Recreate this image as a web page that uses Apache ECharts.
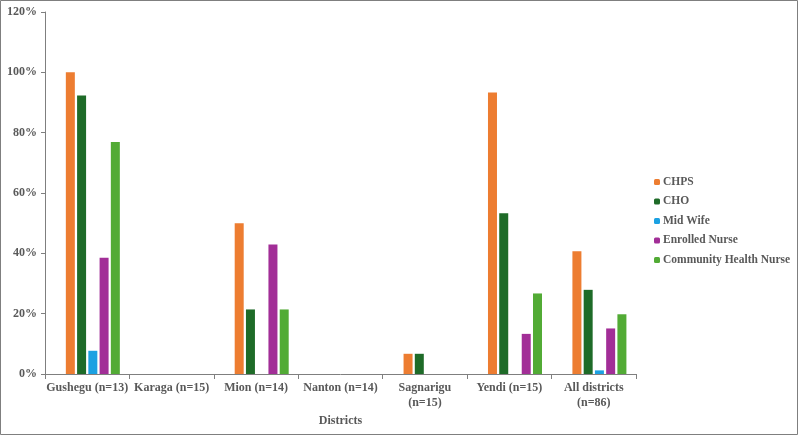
<!DOCTYPE html>
<html>
<head>
<meta charset="utf-8">
<script src="https://cdn.jsdelivr.net/npm/echarts@6/dist/echarts.min.js"></script>
<style>
  html, body { margin: 0; padding: 0; background: #fff; }
  #chart { width: 798px; height: 436px; }
</style>
</head>
<body>
<div id="chart"></div>
<script>
// data (share of facilities, %)
var districts = ['Gushegu (n=13)', 'Karaga (n=15)', 'Mion (n=14)', 'Nanton (n=14)', 'Sagnarigu\n(n=15)', 'Yendi (n=15)', 'All districts\n(n=86)'];
var chps = [100, 0, 50, 0, 6.7, 93.3, 40.7];
var cho = [92.3, 0, 21.4, 0, 6.7, 53.3, 27.9];
var midWife = [7.7, 0, 0, 0, 0, 0, 1.2];
var enrolledNurse = [38.5, 0, 42.9, 0, 0, 13.3, 15.1];
var communityNurse = [76.9, 0, 21.4, 0, 0, 26.7, 19.8];
var yTicks = [0, 20, 40, 60, 80, 100, 120];

var chart = echarts.init(document.getElementById('chart'));
var font = 'Liberation Serif';
var txt = '#595959';

function bar(name, data, color) {
  return {
    name: name,
    type: 'bar',
    data: data,
    barWidth: 9,
    barGap: '25%',
    itemStyle: { color: color }
  };
}

var option = {
  animation: false,
  grid: { left: 45, right: 162, top: 12, bottom: 62 },
  legend: {
    data: ['CHPS', 'CHO', 'Mid Wife', 'Enrolled Nurse', 'Community Health Nurse'],
    orient: 'vertical',
    left: 649,
    top: 171,
    itemWidth: 6,
    itemHeight: 6,
    itemGap: 7.5,
    textStyle: { fontFamily: font, fontWeight: 'bold', fontSize: 11.5, color: txt, padding: [0, 0, 0, -2] }
  },
  xAxis: {
    type: 'category',
    data: districts,
    name: 'Districts',
    nameLocation: 'middle',
    nameGap: 36,
    nameTextStyle: { fontFamily: font, fontWeight: 'bold', fontSize: 12, color: txt },
    axisLine: { lineStyle: { color: '#7f7f7f' } },
    axisTick: { show: true, length: 5, lineStyle: { color: '#7f7f7f' } },
    axisLabel: { fontFamily: font, fontWeight: 'bold', fontSize: 12, color: txt, interval: 0, margin: 6, lineHeight: 15 }
  },
  yAxis: {
    type: 'value',
    min: yTicks[0],
    max: yTicks[yTicks.length - 1],
    interval: 20,
    splitLine: { show: false },
    axisLine: { show: true, lineStyle: { color: '#7f7f7f' } },
    axisTick: { show: true, inside: false, length: 4, lineStyle: { color: '#7f7f7f' } },
    axisLabel: { fontFamily: font, fontWeight: 'bold', fontSize: 12, color: txt, margin: 8, formatter: '{value}%' }
  },
  series: [
    // empty slot: the original chart leaves one blank bar space before CHPS
    { name: 'blank', type: 'bar', data: [], barWidth: 9, barGap: '25%' },
    bar('CHPS', chps, '#ED7D31'),
    bar('CHO', cho, '#1E6B28'),
    bar('Mid Wife', midWife, '#1BA1E2'),
    bar('Enrolled Nurse', enrolledNurse, '#A22E97'),
    bar('Community Health Nurse', communityNurse, '#52AB35')
  ],
  graphic: [{
    type: 'rect',
    shape: { x: 0.5, y: 0.5, width: 797, height: 434 },
    style: { fill: null, stroke: '#7f7f7f', lineWidth: 1 },
    silent: true
  }]
};

chart.setOption(option);
</script>
</body>
</html>
